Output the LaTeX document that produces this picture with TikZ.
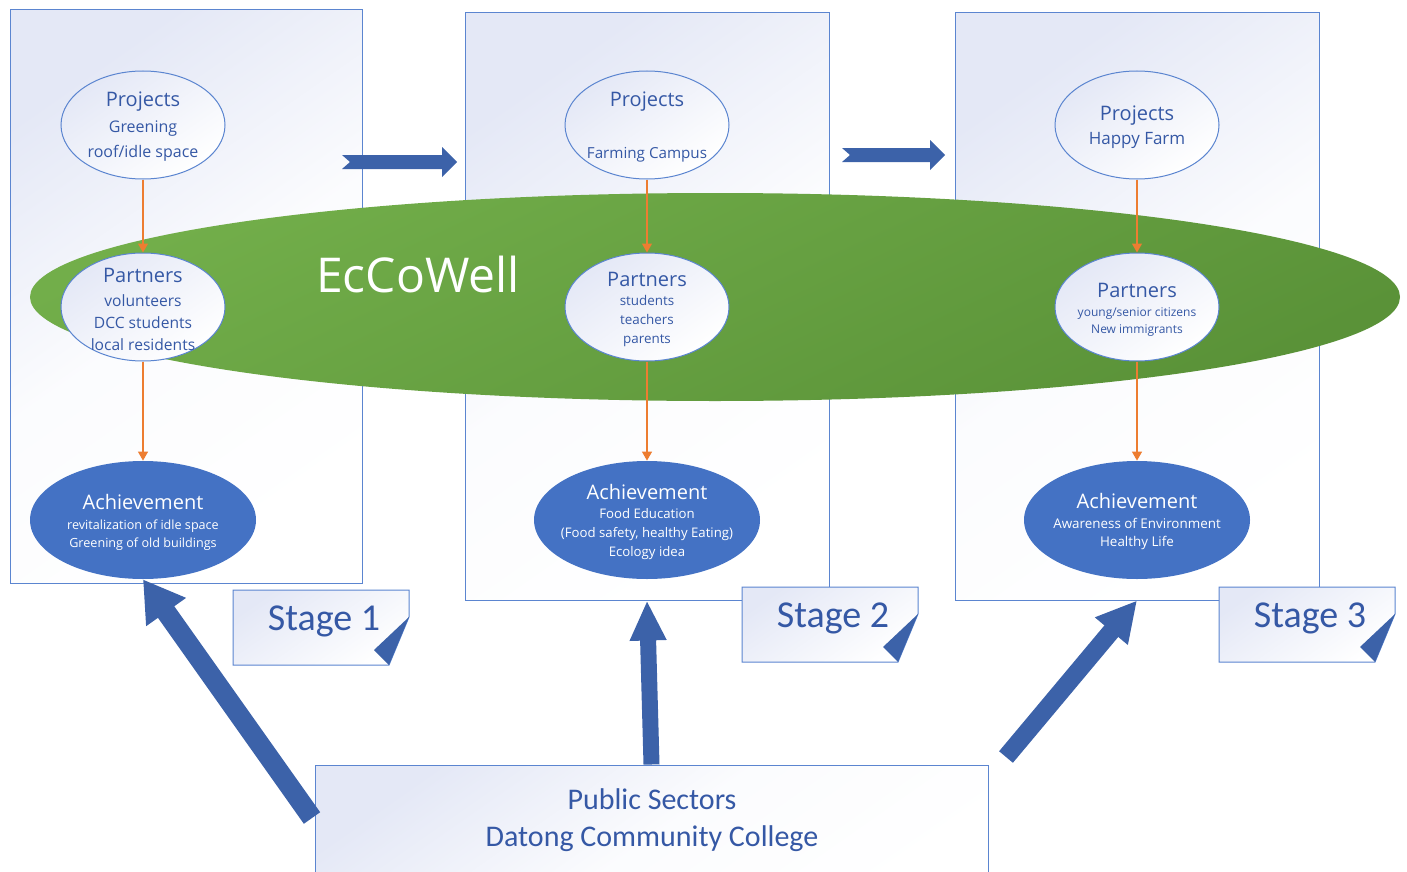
\documentclass[tikz,border=0pt]{standalone}
\usepackage{fontspec}
\setmainfont{Carlito}
\newfontfamily\segoe{Open Sans}
\usetikzlibrary{arrows.meta,positioning,shapes.geometric,calc}
\definecolor{boxline}{HTML}{5B85D0}
\definecolor{txtblue}{HTML}{3558A5}
\definecolor{achblue}{HTML}{4472C4}
\definecolor{bigblue}{HTML}{3C62A9}
\definecolor{ecogreen}{HTML}{72AE4A}
\definecolor{ecodark}{HTML}{5A9238}
\definecolor{flowor}{HTML}{ED7D31}
\definecolor{lav}{HTML}{E4E8F6}
\tikzset{
  panel/.style={draw=boxline,line width=0.5pt,top color=lav,bottom color=white,middle color=white!85!lav,shading angle=35,inner sep=0pt},
  stagebox/.style={draw=boxline,line width=0.5pt,top color=lav,bottom color=white,shading angle=35},
  bubble/.style={ellipse,draw=boxline,line width=0.5pt,top color=lav,bottom color=white,shading angle=35,
    minimum width=82pt,minimum height=54pt,inner sep=0pt},
  achv/.style={ellipse,fill=achblue,minimum width=113pt,minimum height=59pt,inner sep=0pt},
  btxt/.style={align=center,text=txtblue,inner sep=0pt},
  atxt/.style={align=center,text=white,inner sep=0pt},
  flow/.style={draw=flowor,line width=0.6pt,-{Triangle[length=4.5pt,width=5pt]}},
  bigarrow/.style={draw=bigblue}
}
\begin{document}
\begin{tikzpicture}[x=0.5pt,y=-0.5pt]
\useasboundingbox (0,0) rectangle (1407,872);
\clip (0,0) rectangle (1407,872);
\node[panel,minimum width=176pt,minimum height=286.5pt] (box1) at (186,296.5) {};
\node[panel,minimum width=182pt,minimum height=293.5pt] (box2) at (647,306.5) {};
\node[panel,minimum width=182pt,minimum height=293.5pt] (box3) at (1137,306.5) {};
\node[ellipse,inner sep=0pt,minimum width=685pt,minimum height=104pt,
  top color=ecogreen,bottom color=ecodark,shading angle=25] (eco) at (715,297) {};
\node[font=\segoe\fontsize{24}{28}\selectfont,text=white] (ecotxt) at (418,274) {EcCoWell};
\foreach \x/\y/\l in {342/162/115,842/155/103}
  \fill[bigblue] (\x,\y-7) -- (\x+\l-15,\y-7) -- (\x+\l-15,\y-15) -- (\x+\l,\y)
    -- (\x+\l-15,\y+15) -- (\x+\l-15,\y+7) -- (\x,\y+7) -- (\x+8,\y) -- cycle;
\node[bubble] (p1) at (143,125) {};
\node[bubble] (r1) at (143,307) {};
\node[achv] (a1) at (143,520) {};
\node[bubble] (p2) at (647,125) {};
\node[bubble] (r2) at (647,307) {};
\node[achv] (a2) at (647,520) {};
\node[bubble] (p3) at (1137,125) {};
\node[bubble] (r3) at (1137,307) {};
\node[achv] (a3) at (1137,520) {};
\node[btxt,font=\segoe\fontsize{8}{12.75}\selectfont] (p1t) at (143,127)
  {{\fontsize{10}{12}\selectfont Projects}\\Greening\\roof/idle space};
\node[btxt,font=\segoe\fontsize{7.6}{13}\selectfont] (p2t) at (647,127)
  {{\fontsize{10}{12}\selectfont Projects}\\[13pt]Farming Campus};
\node[btxt,font=\segoe\fontsize{8.5}{12}\selectfont] (p3t) at (1137,127)
  {{\fontsize{10}{12}\selectfont Projects}\\Happy Farm};
\node[btxt,font=\segoe\fontsize{7.8}{11}\selectfont] (r1t) at (143,309)
  {{\fontsize{10}{12}\selectfont Partners}\\[1pt]volunteers\\DCC students\\local residents};
\node[btxt,font=\segoe\fontsize{6.7}{9.5}\selectfont] (r2t) at (647,309)
  {{\fontsize{10}{12}\selectfont Partners}\\students\\teachers\\parents};
\node[btxt,font=\segoe\fontsize{6}{8.5}\selectfont] (r3t) at (1137,310)
  {{\fontsize{10}{12}\selectfont Partners}\\[1pt]young/senior citizens\\New immigrants};
\node[atxt,font=\segoe\fontsize{6.3}{9}\selectfont] (a1t) at (143,522)
  {{\fontsize{10}{12}\selectfont Achievement}\\[1pt]revitalization of idle space\\Greening of old buildings};
\node[atxt,font=\segoe\fontsize{6.6}{9.5}\selectfont] (a2t) at (647,522)
  {{\fontsize{10}{12}\selectfont Achievement}\\Food Education\\(Food safety, healthy Eating)\\Ecology idea};
\node[atxt,font=\segoe\fontsize{6.7}{9}\selectfont] (a3t) at (1137,522)
  {{\fontsize{10}{12}\selectfont Achievement}\\[1pt]Awareness of Environment\\Healthy Life};
\foreach \i in {1,2,3} {
  \draw[flow] (p\i) -- (r\i);
  \draw[flow] (r\i) -- (a\i);
}
\foreach \x/\y/\n in {233/590/1,742/587/2,1219/587/3} {
  \draw[stagebox] (\x,\y) -- ++(176,0) -- ++(0,27) -- ++(-20,48) -- ++(-156,0) -- cycle;
  \fill[bigblue] (\x+176,\y+27) -- (\x+156,\y+75) -- (\x+141,\y+60) -- cycle;
  \node[font=\fontsize{19}{22}\selectfont,text=txtblue] (stage\n) at (\x+91,\y+31) {Stage \n};
}
\node[panel,minimum width=336.5pt,minimum height=70pt] (pub) at (651.5,835) {};
\node[font=\fontsize{15}{18.5}\selectfont,text=txtblue,align=center] (pubt) at (652,820)
  {Public Sectors\\Datong Community College};
\coordinate (t1) at (312,818);
\coordinate (t3) at (1006,757);
\draw[bigarrow,line width=10pt,-{Triangle[length=20pt,width=23pt]}] (t1) -- (a1.south);
\draw[bigarrow,line width=8pt,-{Triangle[length=20pt,width=17pt]}] (pub.north) -- (box2.south);
\draw[bigarrow,line width=9pt,-{Triangle[length=20pt,width=20pt]}] (t3) -- (box3.south);
\end{tikzpicture}
\end{document}
